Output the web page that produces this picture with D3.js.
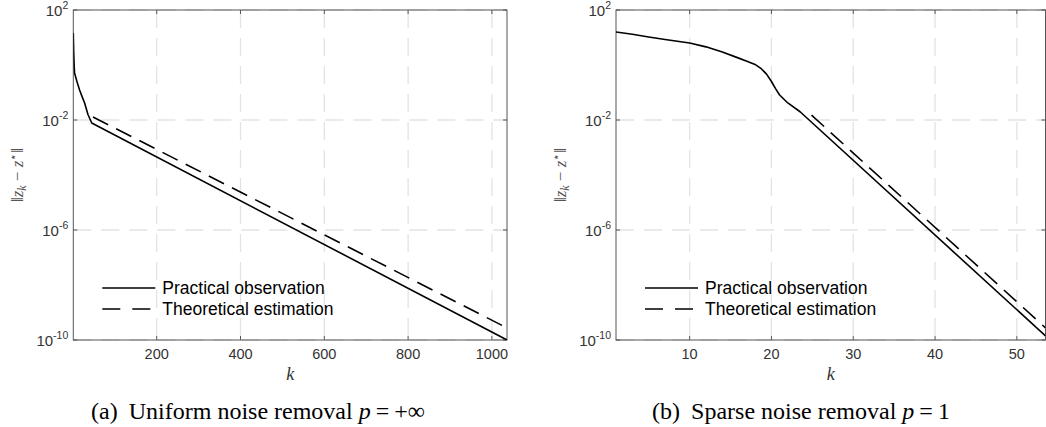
<!DOCTYPE html>
<html>
<head>
<meta charset="utf-8">
<script src="https://cdn.jsdelivr.net/npm/d3@7"></script>
<style>
  body { margin: 0; background: #fff; }
  svg { display: block; }
</style>
</head>
<body>
<div id="chart"></div>
<script>
// panel (a): uniform noise, k vs log10 error
const aPracticalK = [1, 2, 3, 4, 10, 16, 22, 28, 36, 45, 1036];
const aPracticalLog = [1.16, 0.45, 0.0, -0.29, -0.62, -0.91, -1.15, -1.38, -1.8, -2.11, -10];
const aTheoryK = [48, 1036];
const aTheoryLog = [-1.89, -9.56];
const aXTicks = [200, 400, 600, 800, 1000];

// panel (b): sparse noise
const bPracticalK = [1, 3, 5, 7, 10, 12, 14, 16, 17, 18, 18.7, 19.4, 20, 20.5, 21, 22, 23.5, 53.5];
const bPracticalLog = [1.2, 1.12, 1.02, 0.93, 0.8, 0.66, 0.47, 0.25, 0.14, 0.02, -0.12, -0.33, -0.6, -0.86, -1.09, -1.38, -1.7, -9.85];
const bTheoryK = [24.9, 53.5];
const bTheoryLog = [-1.82, -9.56];
const bXTicks = [10, 20, 30, 40, 50];

const yTickExp = [2, -2, -6, -10];
const legendLabels = ["Practical observation", "Theoretical estimation"];

const width = 1046;
const height = 427;

const svg = d3.select("#chart")
    .append("svg")
    .attr("width", width)
    .attr("height", height);

svg.append("rect").attr("width", width).attr("height", height).attr("fill", "#fff");

function drawPanel(opts) {
    const left = opts.left, right = opts.right, top = 10, bottom = 340;

    const x = d3.scaleLinear().domain(opts.xDomain).range([left, right]);
    const y = d3.scaleLog().domain([1e-10, 1e2]).range([bottom, top]);

    const g = svg.append("g");

    // grid
    g.selectAll(".vgrid")
        .data(opts.xTicks)
        .enter().append("line")
        .attr("x1", d => x(d)).attr("x2", d => x(d))
        .attr("y1", top).attr("y2", bottom)
        .attr("stroke", "#e3e3e3")
        .attr("stroke-width", 1.3)
        .attr("stroke-dasharray", "18,10");

    g.selectAll(".hgrid")
        .data(yTickExp)
        .enter().append("line")
        .attr("x1", left).attr("x2", right)
        .attr("y1", d => y(Math.pow(10, d))).attr("y2", d => y(Math.pow(10, d)))
        .attr("stroke", "#e3e3e3")
        .attr("stroke-width", 1.3)
        .attr("stroke-dasharray", "18,10");

    // axes box + inward ticks
    g.append("rect")
        .attr("x", left).attr("y", top)
        .attr("width", right - left).attr("height", bottom - top)
        .attr("fill", "none")
        .attr("stroke", "#555")
        .attr("stroke-width", 1);

    opts.xTicks.forEach(t => {
        g.append("line").attr("x1", x(t)).attr("x2", x(t)).attr("y1", bottom).attr("y2", bottom - 4).attr("stroke", "#555");
        g.append("line").attr("x1", x(t)).attr("x2", x(t)).attr("y1", top).attr("y2", top + 4).attr("stroke", "#555");
    });
    yTickExp.forEach(e => {
        const yy = y(Math.pow(10, e));
        g.append("line").attr("x1", left).attr("x2", left + 4).attr("y1", yy).attr("y2", yy).attr("stroke", "#555");
        g.append("line").attr("x1", right).attr("x2", right - 4).attr("y1", yy).attr("y2", yy).attr("stroke", "#555");
    });

    // tick labels
    g.selectAll(".xlab")
        .data(opts.xTicks)
        .enter().append("text")
        .attr("x", d => x(d))
        .attr("y", 359)
        .attr("text-anchor", "middle")
        .style("font-family", "'Liberation Sans', Arial, sans-serif")
        .style("font-size", "14.5px")
        .attr("fill", "#333")
        .text(d => d);

    yTickExp.forEach(e => {
        const t = g.append("text")
            .attr("x", left - 5)
            .attr("y", y(Math.pow(10, e)) + 6)
            .attr("text-anchor", "end")
            .style("font-family", "'Liberation Sans', Arial, sans-serif")
            .style("font-size", "15px")
            .attr("fill", "#333");
        t.append("tspan").text("10");
        t.append("tspan").attr("dy", -7).style("font-size", "10.5px").text(e);
    });

    // y label ||z_k - z*||
    const yl = g.append("text")
        .attr("transform", `translate(${left - 50}, 175) rotate(-90)`)
        .attr("text-anchor", "middle")
        .style("font-family", "'Liberation Serif', 'DejaVu Serif', serif")
        .style("font-size", "17px")
        .attr("fill", "#555");
    yl.append("tspan").text("‖");
    yl.append("tspan").style("font-style", "italic").text("z");
    yl.append("tspan").attr("dy", 3).style("font-size", "12px").style("font-style", "italic").text("k");
    yl.append("tspan").attr("dy", -3).text(" − ");
    yl.append("tspan").style("font-style", "italic").text("z");
    yl.append("tspan").attr("dy", -6).style("font-size", "12px").text("⋆");
    yl.append("tspan").attr("dy", 6).text("‖");

    // x label
    g.append("text")
        .attr("x", (left + right) / 2)
        .attr("y", 380)
        .attr("text-anchor", "middle")
        .style("font-family", "'Liberation Serif', 'DejaVu Serif', serif")
        .style("font-style", "italic")
        .style("font-size", "18px")
        .attr("fill", "#333")
        .text("k");

    // data lines
    const line = d3.line()
        .x(d => x(d[0]))
        .y(d => y(Math.pow(10, d[1])));

    const clipId = "clip" + opts.id;
    svg.append("clipPath").attr("id", clipId)
        .append("rect").attr("x", left).attr("y", top).attr("width", right - left).attr("height", bottom - top);

    g.append("path")
        .datum(d3.zip(opts.theoryK, opts.theoryLog))
        .attr("d", line)
        .attr("clip-path", `url(#${clipId})`)
        .attr("fill", "none")
        .attr("stroke", "#000")
        .attr("stroke-width", 1.6)
        .attr("stroke-dasharray", "17,9");

    g.append("path")
        .datum(d3.zip(opts.practicalK, opts.practicalLog))
        .attr("d", line)
        .attr("clip-path", `url(#${clipId})`)
        .attr("fill", "none")
        .attr("stroke", "#000")
        .attr("stroke-width", 1.6)
        .attr("stroke-linejoin", "round");

    // legend
    const lg = g.append("g").attr("transform", `translate(${left + 29}, 288)`);
    legendLabels.forEach((lab, i) => {
        lg.append("line")
            .attr("x1", 0).attr("x2", 53)
            .attr("y1", i * 21).attr("y2", i * 21)
            .attr("stroke", "#000")
            .attr("stroke-width", 1.6)
            .attr("stroke-dasharray", i === 1 ? "18,12" : null);
        lg.append("text")
            .attr("x", 60)
            .attr("y", i * 21 + 6)
            .style("font-family", "'Liberation Sans', Arial, sans-serif")
            .style("font-size", "17.5px")
            .attr("fill", "#000")
            .text(lab);
    });

    // caption
    const cap = svg.append("text")
        .attr("x", opts.capX)
        .attr("y", 419)
        .attr("text-anchor", "middle")
        .style("font-family", "'Liberation Serif', 'Times New Roman', serif")
        .style("font-size", "24px")
        .attr("fill", "#000");
    cap.append("tspan").text(opts.capTag);
    cap.append("tspan").attr("dx", 11).text(opts.capText + " ");
    cap.append("tspan").style("font-style", "italic").text("p");
    cap.append("tspan").attr("dx", 5).text("=");
    cap.append("tspan").attr("dx", 5).text(opts.capVal);
}

drawPanel({
    id: "a", left: 73.3, right: 507, xDomain: [1, 1036], xTicks: aXTicks,
    practicalK: aPracticalK, practicalLog: aPracticalLog,
    theoryK: aTheoryK, theoryLog: aTheoryLog,
    capX: 258, capTag: "(a)", capText: "Uniform noise removal", capVal: "+∞"
});

drawPanel({
    id: "b", left: 616, right: 1045.5, xDomain: [1, 53.5], xTicks: bXTicks,
    practicalK: bPracticalK, practicalLog: bPracticalLog,
    theoryK: bTheoryK, theoryLog: bTheoryLog,
    capX: 801, capTag: "(b)", capText: "Sparse noise removal", capVal: "1"
});
</script>
</body>
</html>
